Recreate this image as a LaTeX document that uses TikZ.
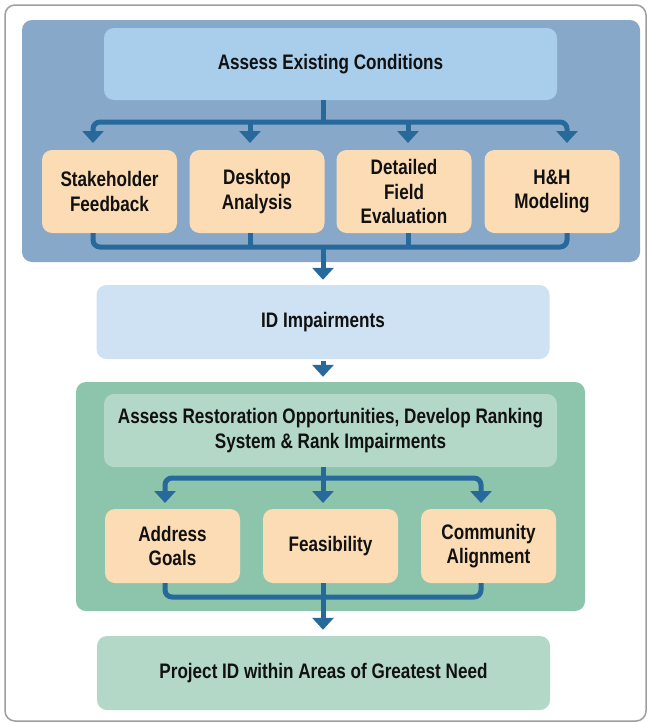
\documentclass[tikz,border=0pt]{standalone}
\usepackage{fontspec}
\setmainfont{Liberation Sans}[FakeStretch=0.815]
\usetikzlibrary{arrows.meta}
\definecolor{panelblue}{HTML}{87A8C9}
\definecolor{topblue}{HTML}{A8CEEC}
\definecolor{orangebox}{HTML}{FCDCB4}
\definecolor{idblue}{HTML}{CFE2F3}
\definecolor{panelgreen}{HTML}{8CC4AC}
\definecolor{lightgreen}{HTML}{B3D8C7}
\definecolor{arrowc}{HTML}{27699A}
\definecolor{framec}{HTML}{9E9E9E}
\definecolor{txt}{HTML}{111111}
\begin{document}
\begin{tikzpicture}[x=1pt,y=-1pt,
  panel/.style={rounded corners=10pt, inner sep=0pt},
  box/.style={rounded corners=10pt, inner sep=0pt, align=center,
    font=\fontsize{21}{24.5}\selectfont\bfseries, text=txt},
  line/.style={line width=5pt, draw=arrowc},
  flow/.style={line width=5pt, draw=arrowc, -{Triangle[width=21pt,length=12pt]}},
  flowboth/.style={line width=5pt, draw=arrowc, {Triangle[width=21pt,length=12pt]}-{Triangle[width=21pt,length=12pt]}},
]
\useasboundingbox (0,0) rectangle (648,723);
\draw[framec, line width=1.5pt, fill=white, rounded corners=10pt] (5,5) rectangle (646,721);

% blue panel
\node[panel, fill=panelblue, minimum width=618pt, minimum height=242pt] (bp) at (331,141) {};
\node[box, fill=topblue, minimum width=453pt, minimum height=72pt] (aec) at (330.5,64) {Assess Existing Conditions};
\node[box, fill=orangebox, minimum width=135pt, minimum height=83pt] (sf) at (109.5,191.5) {Stakeholder\\Feedback};
\node[box, fill=orangebox, minimum width=135pt, minimum height=83pt] (da) at (257,191.5) {Desktop\\Analysis};
\node[box, fill=orangebox, minimum width=135pt, minimum height=83pt] (dfe) at (404,191.5) {Detailed\\Field\\Evaluation};
\node[box, fill=orangebox, minimum width=135pt, minimum height=83pt] (hh) at (552,191.5) {H\&H\\Modeling};

% ID
\node[box, fill=idblue, minimum width=453pt, minimum height=74pt] (id) at (323,322) {ID Impairments};

% green panel
\node[panel, fill=panelgreen, minimum width=509pt, minimum height=229pt] (gp) at (330.5,496.5) {};
\node[box, fill=lightgreen, minimum width=453pt, minimum height=73pt] (ar) at (330.5,430.5) {Assess Restoration Opportunities, Develop Ranking\\System \& Rank Impairments};
\node[box, fill=orangebox, minimum width=135pt, minimum height=74pt] (ag) at (172.5,546) {Address\\Goals};
\node[box, fill=orangebox, minimum width=135pt, minimum height=74pt] (fe) at (330.5,546) {Feasibility};
\node[box, fill=orangebox, minimum width=135pt, minimum height=74pt] (ca) at (488.5,546) {Community\\Alignment};

% final
\node[box, fill=lightgreen, minimum width=453pt, minimum height=74pt] (fin) at (323.5,673) {Project ID within Areas of Greatest Need};

% top branching
\coordinate (jt) at (323,122);
\coordinate (t1) at (93,143);
\coordinate (t2) at (250,143);
\coordinate (t3) at (408,143);
\coordinate (t4) at (567,143);
\draw[line] (aec.south -| jt) -- (jt);
\draw[flowboth, rounded corners=7pt] (t1) |- (jt) -| (t4);
\draw[flow] (t2 |- jt) -- (t2);
\draw[flow] (t3 |- jt) -- (t3);

% top merging
\coordinate (jb) at (323,247);
\draw[line, rounded corners=7pt] (sf.south -| t1) |- (jb) -| (hh.south -| t4);
\draw[line] (da.south -| t2) -- (t2 |- jb);
\draw[line] (dfe.south -| t3) -- (t3 |- jb);
\draw[flow, shorten >=5pt] (jb) -- (id.north -| jb);

% ID to green
\draw[flow, shorten <=2pt, shorten >=5pt] (id.south) -- (gp.north -| id.south);

% green branching
\coordinate (jt2) at (323,478);
\coordinate (g1) at (165,503);
\coordinate (g2) at (323,503);
\coordinate (g3) at (481,503);
\draw[line] (ar.south -| jt2) -- (jt2);
\draw[flowboth, rounded corners=7pt] (g1) |- (jt2) -| (g3);
\draw[flow] (jt2) -- (g2);

% green merging
\coordinate (jb2) at (323,597);
\draw[line, rounded corners=7pt] (ag.south -| g1) |- (jb2) -| (ca.south -| g3);
\draw[flow, shorten >=6pt] (fe.south -| jb2) -- (fin.north -| jb2);
\end{tikzpicture}
\end{document}
